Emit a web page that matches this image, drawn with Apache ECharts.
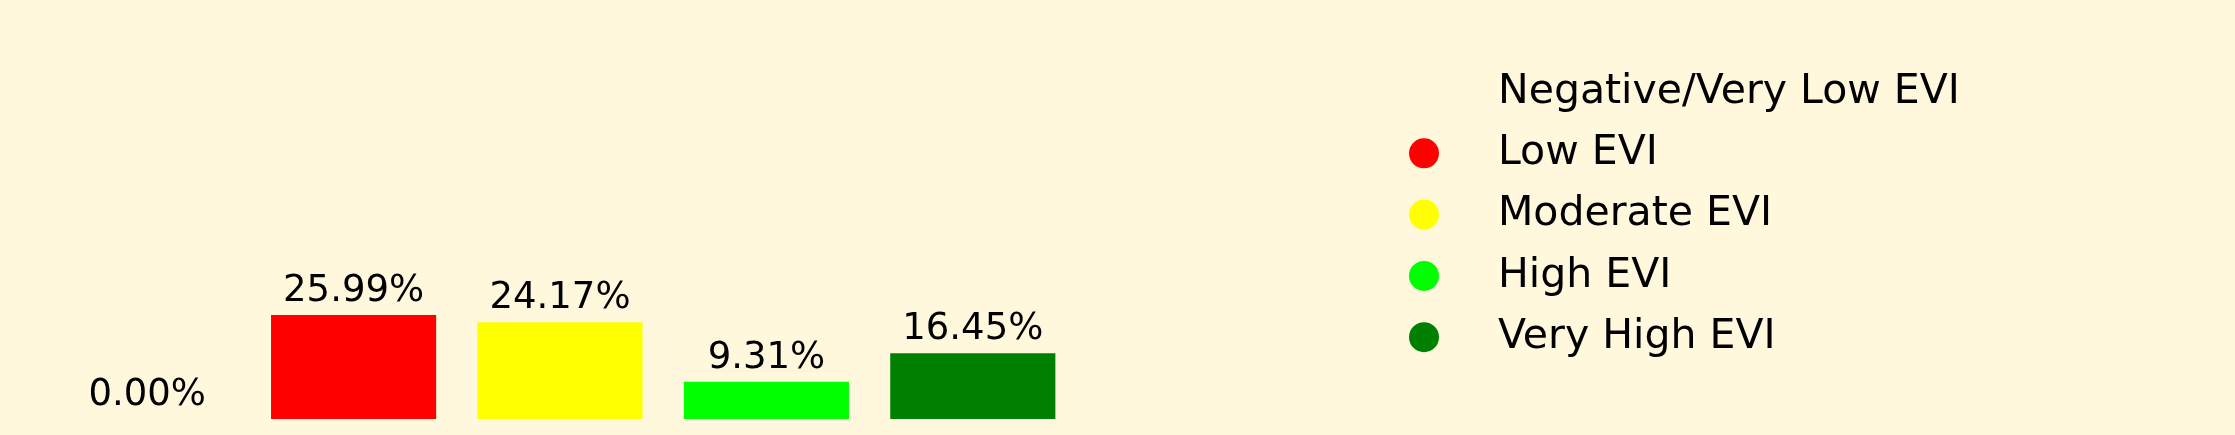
<!DOCTYPE html>
<html>
<head>
<meta charset="utf-8">
<script src="https://cdn.jsdelivr.net/npm/echarts@6/dist/echarts.min.js"></script>
<style>
html,body{margin:0;padding:0;background:#fff8dc;}
#chart{width:2235px;height:435px;}
</style>
</head>
<body>
<div id="chart"></div>
<script>
const categories = ["Negative/Very Low EVI", "Low EVI", "Moderate EVI", "High EVI", "Very High EVI"];
const values = [0.00, 25.99, 24.17, 9.31, 16.45];
const colors = ["rgba(0,0,0,0)", "#ff0000", "#ffff00", "#00ff00", "#008000"];

const font = "DejaVu Sans";
const series = categories.map((name, i) => ({
  name: name,
  type: "bar",
  stack: "all",
  barWidth: "80%",
  data: values.map((v, j) => (j === i ? v : "-")),
  itemStyle: { color: colors[i] },
  label: {
    show: true,
    position: "top",
    distance: 5,
    fontFamily: font,
    fontSize: 37,
    color: "#000",
    formatter: p => Number(p.value).toFixed(2) + "%"
  },
  emphasis: { disabled: true }
}));

const chart = echarts.init(document.getElementById("chart"), null, { renderer: "canvas" });
chart.setOption({
  backgroundColor: "#fff8dc",
  animation: false,
  grid: { left: 44, width: 1032, bottom: 16, top: 19 },
  xAxis: {
    type: "category",
    data: categories,
    show: false
  },
  yAxis: {
    type: "value",
    min: 0,
    max: 100,
    show: false
  },
  legend: {
    orient: "vertical",
    left: 1409,
    top: 65,
    padding: 0,
    itemWidth: 30,
    itemHeight: 30,
    itemGap: 7.3,
    icon: "circle",
    selectedMode: false,
    data: categories,
    textStyle: {
      fontFamily: font,
      fontSize: 41,
      lineHeight: 41,
      color: "#000",
      padding: [13, 0, 0, 54]
    }
  },
  series: series
});
</script>
</body>
</html>
